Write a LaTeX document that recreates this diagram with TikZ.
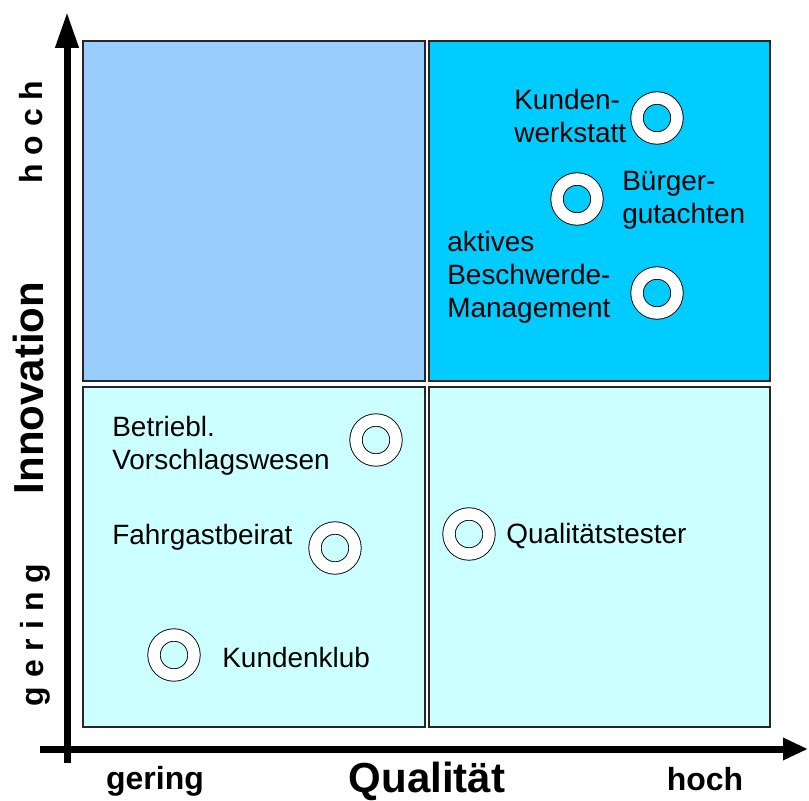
\documentclass[tikz,border=0pt]{standalone}
\usepackage{fontspec}
\setmainfont{Liberation Sans}
\usepackage{tikz}
\usetikzlibrary{positioning}
\usetikzlibrary{arrows.meta}
\definecolor{quadlight}{HTML}{99CCFF}
\definecolor{quadcyan}{HTML}{00CCFF}
\definecolor{quadpale}{HTML}{CCFFFF}
\tikzset{ring node/.style={circle,draw,double=white,double distance=2.3mm,line width=0.5pt,minimum size=8mm,inner sep=0pt},}
\tikzset{quad box/.style={draw=black!85,line width=0.3mm},}
\tikzset{item text/.style={font=\fontsize{15.9}{18.8}\selectfont,align=left,anchor=base west,inner sep=0pt},}
\tikzset{axis text/.style={font=\bfseries\fontsize{18.2}{20}\selectfont,inner sep=0pt,anchor=base},}
\tikzset{axis title/.style={font=\bfseries\fontsize{23.9}{26}\selectfont,inner sep=0pt,anchor=base},}

\begin{document}
\begin{tikzpicture}[x=0.2mm,y=-0.2mm,>={Triangle[length=5mm,width=4.2mm]}]
	\useasboundingbox (0,0) rectangle (809,801);
	% quadrants
	\filldraw[quad box,fill=quadlight] (83,41) rectangle (425,381);
	\filldraw[quad box,fill=quadcyan] (429,41) rectangle (770,381);
	\filldraw[quad box,fill=quadpale] (83,387) rectangle (425,727);
	\filldraw[quad box,fill=quadpale] (429,387) rectangle (770,727);

	% axes
	\coordinate (ybot) at (67,763);
	\coordinate (ytop) at (67,12);
	\coordinate (xleft) at (40,749);
	\coordinate (xright) at (808,749);
	\draw[line width=1.4mm,-{Triangle[length=7.2mm,width=4.4mm]}] (ybot) -- (ytop);
	\draw[line width=1.4mm,->] (xleft) -- (xright);

	\node[axis text,rotate=90] (ihoch) at (42,132) {h o c h};
	\node[axis title,rotate=90] (innov) at (43,388) {Innovation};
	\node[axis text,rotate=90] (igering) at (43,635) {g e r i n g};
	\node[axis text] (qgering) at (155,789) {gering};
	\node[axis title] (qual) at (427,792) {Qualität};
	\node[axis text] (qhoch) at (705,790) {hoch};

	% items (multi-line text: base = last line)
	\node[ring node] (kw) at (657,118) {};
	\node[ring node] (bg) at (577,199) {};
	\node[ring node] (bm) at (657,293) {};
	\node[ring node] (bv) at (376,440) {};
	\node[ring node] (fb) at (335,548) {};
	\node[ring node] (kk) at (174,655) {};
	\node[ring node] (qt) at (469,534) {};

	\node[item text] (kwt) at (514,143) {Kunden-\\werkstatt};
	\node[item text] (bgt) at (622,224) {Bürger-\\gutachten};
	\node[item text] (bmt) at (447,318) {aktives\\Beschwerde-\\Management};
	\node[item text] (bvt) at (112,470) {Betriebl.\\Vorschlagswesen};
	\node[item text] (fbt) at (112,545) {Fahrgastbeirat};
	\node[item text] (kkt) at (222,667) {Kundenklub};
	\node[item text] (qtt) at (506,543) {Qualitätstester};
\end{tikzpicture}
\end{document}
